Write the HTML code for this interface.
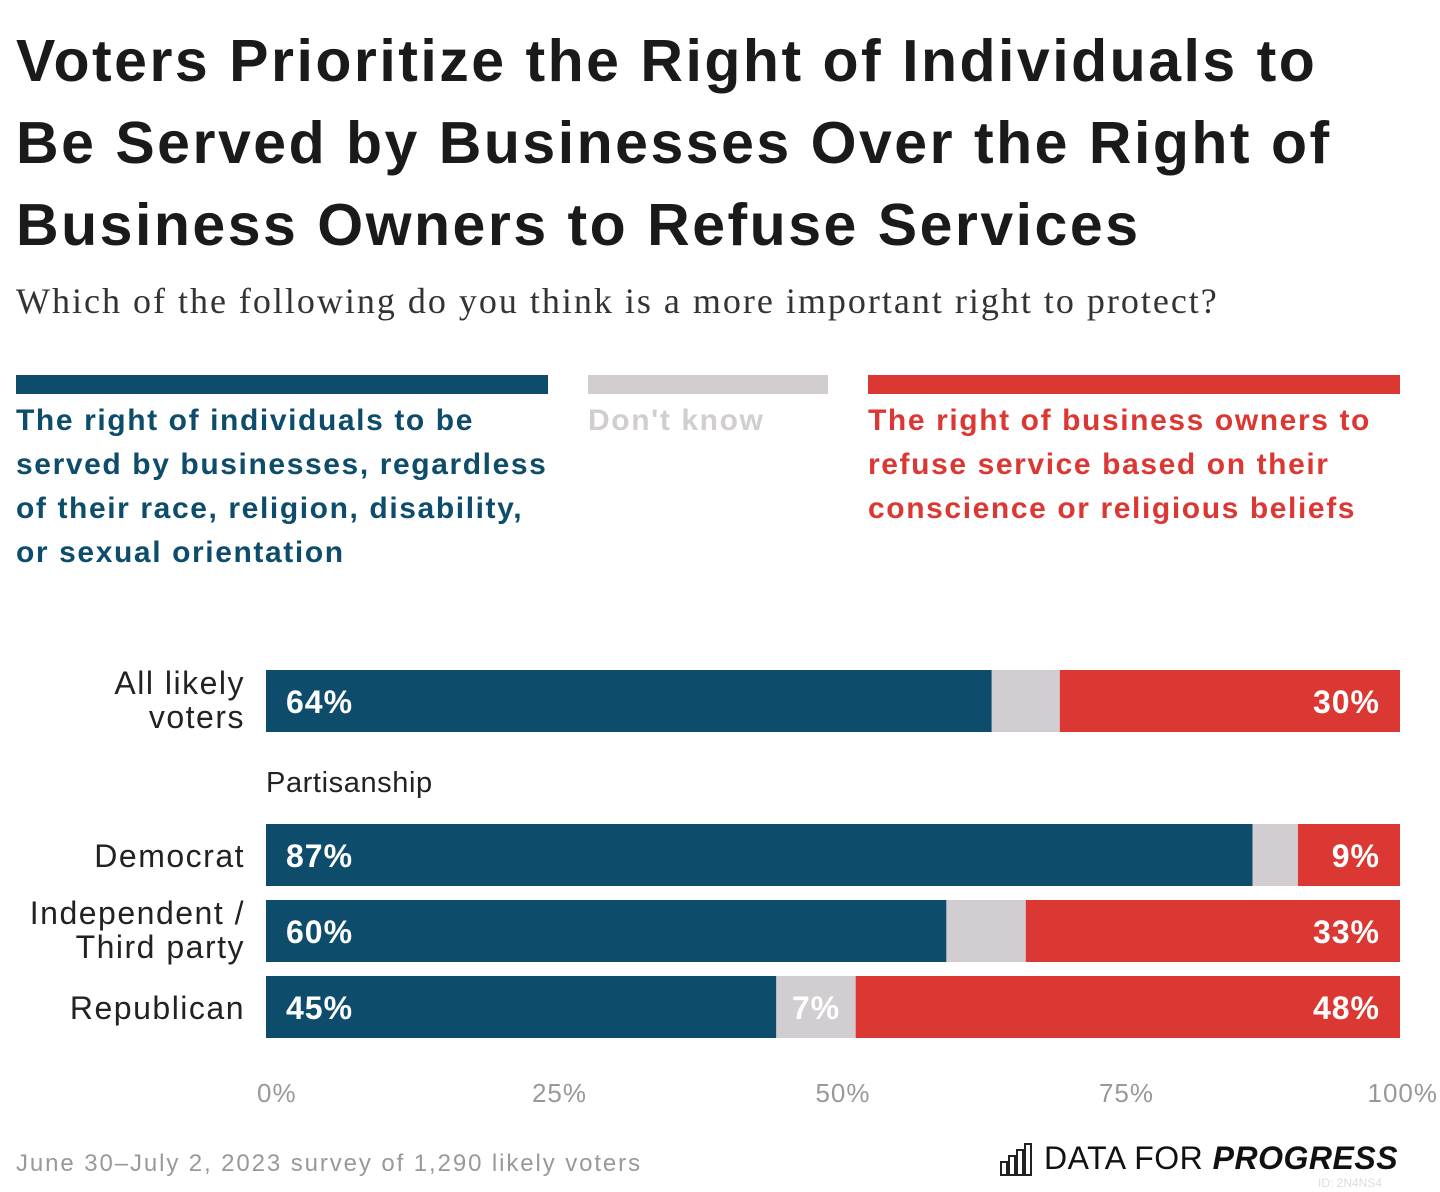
<!DOCTYPE html>
<html><head><meta charset="utf-8"><style>
body{margin:0;width:1440px;height:1192px;background:#fff;font-family:"Liberation Sans",sans-serif;position:relative;overflow:hidden}
.abs{position:absolute}
h1{position:absolute;left:16px;top:20px;margin:0;font-size:59px;line-height:82px;font-weight:bold;color:#1a1a1a;letter-spacing:2.5px;white-space:nowrap}
.sub{left:16px;top:280px;font-family:"Liberation Serif",serif;font-size:36px;color:#333;letter-spacing:2px;white-space:nowrap}
.leg{font-size:30px;font-weight:bold;line-height:44px;letter-spacing:1.6px;white-space:nowrap}
</style></head><body>
<h1>Voters Prioritize the Right of Individuals to<br>Be Served by Businesses Over the Right of<br>Business Owners to Refuse Services</h1>
<div class="abs sub">Which of the following do you think is a more important right to protect?</div>
<div class="abs" style="left:16px;top:375px;width:532px;height:19px;background:#0d4d6b"></div>
<div class="abs" style="left:588px;top:375px;width:240px;height:19px;background:#d1cdd0"></div>
<div class="abs" style="left:868px;top:375px;width:532px;height:19px;background:#dc3833"></div>
<div class="abs leg" style="left:16px;top:399px;color:#0d4d6b">The right of individuals to be<br>served by businesses, regardless<br>of their race, religion, disability,<br>or sexual orientation</div>
<div class="abs leg" style="left:588px;top:399px;color:#d1cdd0">Don't know</div>
<div class="abs leg" style="left:868px;top:399px;color:#dc3833">The right of business owners to<br>refuse service based on their<br>conscience or religious beliefs</div>
<div class="abs" style="left:266px;top:767px;font-size:29px;color:#222;letter-spacing:0.6px">Partisanship</div>
<svg class="abs" style="left:0;top:0" width="1440" height="1192" id="chart"></svg>
<div class="abs" style="left:16px;top:1150px;font-size:24px;color:#999;letter-spacing:1.9px;white-space:nowrap">June 30–July 2, 2023 survey of 1,290 likely voters</div>
<div class="abs" style="left:1000px;top:1140px;display:flex;align-items:center">
<svg width="32" height="34" viewBox="0 0 32 34"><g fill="none" stroke="#222" stroke-width="2"><rect x="1" y="20" width="6" height="13"/><rect x="9" y="14" width="6" height="19"/><rect x="17" y="8" width="6" height="25"/><rect x="25" y="2" width="6" height="31"/></g></svg>
<span style="font-size:32px;color:#111;margin-left:12px;letter-spacing:0.5px;white-space:nowrap">DATA FOR <b><i>PROGRESS</i></b></span></div>
<div class="abs" style="left:1318px;top:1176px;font-size:12px;color:#ddd">ID: 2N4NS4</div>
<script>
const categories=["All likely voters","Democrat","Independent / Third party","Republican"];
const labelLines=[["All likely","voters"],["Democrat"],["Independent /","Third party"],["Republican"]];
const individuals=[64,87,60,45];
const dontKnow=[6,4,7,7];
const owners=[30,9,33,48];
const ticks=[0,25,50,75,100];
const showDK=[false,false,false,true];
const svg=document.getElementById('chart');
const NS='http://www.w3.org/2000/svg';
const x0=266,x1=1400;
const xs=v=>x0+(x1-x0)*v/100;
const rowY=[670,824,900,976];const bh=62;
function el(t,a){const e=document.createElementNS(NS,t);for(const k in a)e.setAttribute(k,a[k]);svg.appendChild(e);return e;}
categories.forEach((c,i)=>{
  const y=rowY[i];
  const a=individuals[i],b=dontKnow[i],o=owners[i];
  const r1=el('rect',{x:xs(0),y:y,width:xs(a)-xs(0),height:bh,fill:'#0d4d6b'});
  
  
  const r2=el('rect',{x:xs(a),y:y,width:xs(a+b)-xs(a),height:bh,fill:'#d1cdd0'});
  
  
  const r3=el('rect',{x:xs(100-o),y:y,width:xs(100)-xs(100-o),height:bh,fill:'#dc3833'});
  
  
  const t1=el('text',{x:xs(0)+20,y:y+43,fill:'#fff','font-size':32,'font-weight':'bold','letter-spacing':1});t1.textContent=a+'%';
  
  
  const t3=el('text',{x:xs(100)-20,y:y+43,fill:'#fff','font-size':32,'font-weight':'bold','text-anchor':'end','letter-spacing':1});t3.textContent=o+'%';
  
  
  if(showDK[i]){const t2=el('text',{x:(xs(a)+xs(a+b))/2,y:y+43,fill:'#fff','font-size':32,'font-weight':'bold','text-anchor':'middle','letter-spacing':1});t2.textContent=b+'%';
  
  }
  const L=labelLines[i];
  L.forEach((ln,j)=>{const t=el('text',{x:245,y:y+31+(L.length===1?12:0)+(j-(L.length-1)/2)*34+(L.length>1?10:0),'font-size':32,fill:'#222','text-anchor':'end','letter-spacing':1.5});t.textContent=ln;
  
  });
});
ticks.forEach((v,i)=>{
  let anchor='middle',x=xs(v)+10;
  if(i===0){anchor='start';x=xs(v)-9;}
  if(i===ticks.length-1){anchor='end';x=xs(v)+38;}
  const t=el('text',{x:x,y:1102,'font-size':26,fill:'#999','text-anchor':anchor,'letter-spacing':1});t.textContent=v+'%';
  
  
});
</script>
</body></html>
